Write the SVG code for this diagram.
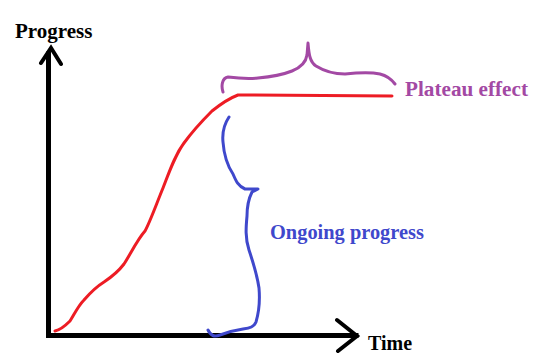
<svg xmlns="http://www.w3.org/2000/svg" width="551" height="362" viewBox="0 0 551 362">
<style>
.lbl{font-family:"Liberation Serif","Times New Roman",serif;font-weight:bold;font-size:20px}
.ax{fill:none;stroke:#000;stroke-width:5;stroke-linecap:square;stroke-linejoin:miter}
.hand{fill:none;stroke-width:3;stroke-linecap:round;stroke-linejoin:round}
</style>
<rect width="551" height="362" fill="#fff"/>
<g id="axes">
<path class="ax" d="M48.5,335.5 V54 M48.5,335.5 H356"/>
<path class="ax" style="stroke-width:4;stroke-linecap:round" d="M41,63 L51,48 L61,64 M337,320 L357,336 L338,351"/>
</g>
<g id="progress-label"><text class="lbl" x="15" y="38" style="font-size:21px">Progress</text></g>
<g id="time-label"><text class="lbl" x="368" y="350">Time</text></g>
<g id="curve">
<path class="hand" stroke="#ed1c24" d="M55,331 C60,330 64,327 70,321 C74,315 78,306 84,300 C90,293 96,287 104,282 C110,278 118,272 124,264 C130,255 137,240 145,231 C150,222 156,205 163,188 C170,170 175,155 184,143 C192,132 200,123 212,111 C222,103 230,98 238,95 L392,96"/>
</g>
<g id="plateau">
<path class="hand" stroke="#a349a4" d="M223,92 C221,86 222,78 228,77 C236,78 248,79 258,78 C270,77 282,75 292,71 C302,67 306,62 307,55 L308,43 C309,55 310,62 316,66 C324,71 334,74 345,74 C355,73 370,72 380,74 C388,76 392,80 395,84"/>
<text class="lbl" x="405" y="96" fill="#a349a4" style="font-size:21.2px">Plateau effect</text>
</g>
<g id="ongoing">
<path class="hand" stroke="#3f48cc" d="M229,117 C225,123 222,132 223,142 C224,156 227,165 233,174 C236,181 238,186 245,189 L258,189 L252,192 C249,198 247,207 247,216 C246,227 245,238 249,250 C253,262 257,274 259,288 C260,300 259,312 256,322 C254,327 250,328 243,329 C236,330 228,332 220,335 C214,337 211,336 208,330"/>
<text class="lbl" x="270" y="239" fill="#3f48cc" style="font-size:20.4px">Ongoing progress</text>
</g>
</svg>
